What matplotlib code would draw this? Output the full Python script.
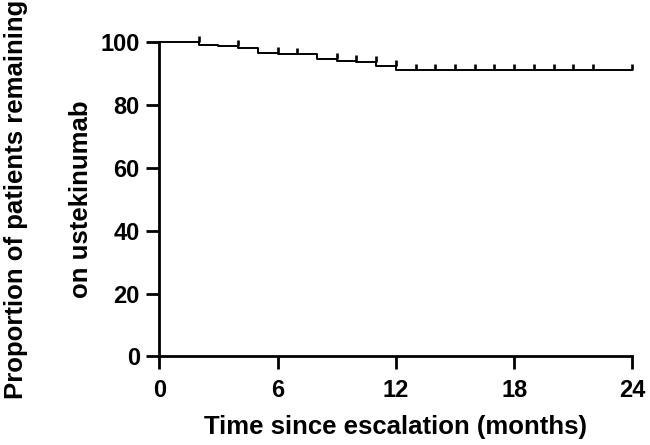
import numpy as np
import matplotlib
matplotlib.use("Agg")
import matplotlib.pyplot as plt

plt.rcParams['font.family'] = ['Liberation Sans', 'DejaVu Sans']
plt.rcParams['font.weight'] = 'bold'

# Kaplan-Meier estimate
months = [0, 2, 3, 4, 5, 6, 8, 9, 10, 11, 12, 24]
remaining = [100, 99.0, 98.6, 98.1, 96.5, 96.0, 94.5, 94.0, 93.6, 92.3, 91.2, 91.2]
censored = [2, 4, 6, 7, 9, 10, 11, 12, 13, 14, 15, 16, 17, 18, 19, 20, 21, 22, 24]

x_ticks = [0, 6, 12, 18, 24]
y_ticks = [0, 20, 40, 60, 80, 100]

fig = plt.figure(figsize=(6.5, 4.45), dpi=100)
ax = fig.add_axes([0.245, 0.199, 0.728, 0.707])

ax.step(months, remaining, where='post', color='black', lw=1.4, clip_on=False)

# censor marks sit on the level just before any drop at the same time
m = np.array(months)
r = np.array(remaining)
idx = np.searchsorted(m, censored, side='left') - 1
idx = np.clip(idx, 0, None)
cy = r[idx]
ax.vlines(censored, cy, cy + 1.9, color='black', lw=1.9, clip_on=False)

ax.set_xlim(0, 24)
ax.set_ylim(0, 100)
ax.set_xticks(x_ticks)
ax.set_yticks(y_ticks)
ax.tick_params(axis='both', width=2, length=9.5, labelsize=17, direction='out')
ax.tick_params(axis='x', pad=7)
ax.tick_params(axis='y', pad=4.5)
for s in ['top', 'right']:
    ax.spines[s].set_visible(False)
for s in ['left', 'bottom']:
    ax.spines[s].set_linewidth(2)

fig.text(0.609, 0.040, 'Time since escalation (months)', fontsize=18.5,
         fontweight='bold', ha='center', va='center')
fig.text(0.025, 0.553, 'Proportion of patients remaining', rotation=90, fontsize=18.5,
         fontweight='bold', ha='center', va='center')
fig.text(0.125, 0.553, 'on ustekinumab', rotation=90, fontsize=18.5,
         fontweight='bold', ha='center', va='center')

fig.savefig('out.png', dpi=100)
